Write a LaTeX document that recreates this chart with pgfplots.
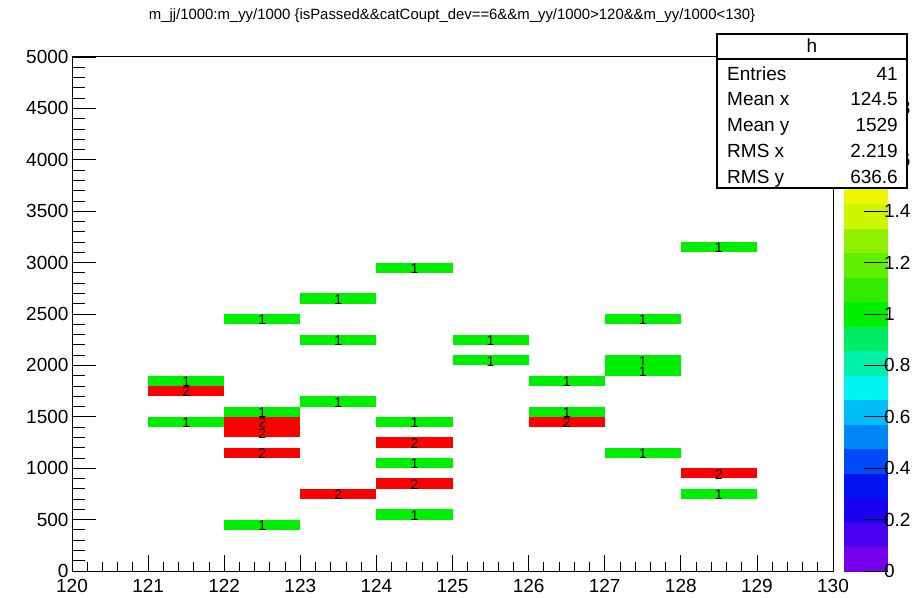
\documentclass[border=0pt]{standalone}
\usepackage{pgfplots}
\pgfplotsset{compat=1.18}
\usepackage{pgfplotstable}
\usepackage{fontspec}
\setmainfont{Liberation Sans}
\newcommand\fs{\fontsize{19bp}{22bp}\selectfont}
\newcommand\fbin{\fontsize{14bp}{16bp}\selectfont}
\newcommand\ftitle{\fontsize{14.9bp}{17bp}\selectfont}
\definecolor{bingreen}{RGB}{0,238,0}
\definecolor{binred}{RGB}{255,0,0}
\pgfdeclareplotmark{bin}{\pgfpathrectangle{\pgfpoint{-38.05bp}{-5.14bp}}{\pgfpoint{76.1bp}{10.28bp}}\pgfusepathqfill}

% bin centres (m_yy, m_jj) with content 1
\pgfplotstableread{
x y c
121.5 1850 1
121.5 1450 1
122.5 2450 1
122.5 1550 1
122.5 450 1
123.5 2650 1
123.5 2250 1
123.5 1650 1
124.5 2950 1
124.5 1450 1
124.5 1050 1
124.5 550 1
125.5 2250 1
125.5 2050 1
126.5 1850 1
126.5 1550 1
127.5 2450 1
127.5 2050 1
127.5 1950 1
127.5 1150 1
128.5 3150 1
128.5 750 1
}\binsone
% bin centres with content 2
\pgfplotstableread{
x y c
121.5 1750 2
122.5 1450 2
122.5 1350 2
122.5 1150 2
123.5 750 2
124.5 1250 2
124.5 850 2
126.5 1450 2
128.5 950 2
}\binstwo

\begin{document}
\begin{tikzpicture}
\fill[white] (0bp,0bp) rectangle (914bp,598bp);
\begin{axis}[
  at={(72bp,27bp)}, anchor=south west,
  scale only axis, width=761bp, height=514bp,
  xmin=120, xmax=130, ymin=0, ymax=5000,
  xtick={120,121,...,130}, ytick={0,500,...,5000},
  minor x tick num=4, minor y tick num=4,
  tick align=inside, tick pos=left,
  xtick style={/pgfplots/major tick length=16bp,/pgfplots/minor tick length=8.5bp},
  ytick style={/pgfplots/major tick length=24bp,/pgfplots/minor tick length=13bp},
  every tick/.style={black, line width=0.8bp},
  axis line style={line width=1bp},
  scaled ticks=false,
  /pgf/number format/assume math mode=true,
  /pgf/number format/1000 sep={},
  ticklabel style={font=\fs},
  xticklabel style={yshift=-5bp},
  point meta min=0, point meta max=2,
  colormap access=piecewise constant,
  colormap={rootpal}{
    rgb255=(118,0,235) rgb255=(72,0,238) rgb255=(28,0,240) rgb255=(0,20,240)
    rgb255=(0,75,245) rgb255=(0,135,245) rgb255=(0,190,245) rgb255=(0,245,240)
    rgb255=(0,240,170) rgb255=(0,236,100) rgb255=(0,238,0) rgb255=(50,235,0)
    rgb255=(95,240,0) rgb255=(145,240,0) rgb255=(205,245,0) rgb255=(240,245,0)
    rgb255=(255,200,0) rgb255=(255,140,0) rgb255=(255,75,0) rgb255=(255,0,0)
    rgb255=(255,0,0)},
  colorbar,
  colorbar style={
    at={(parent axis.north east)}, anchor=north west, xshift=2bp,
    scale only axis, width=44bp, height=514bp,
    ytick={0,0.2,0.4,0.6,0.8,1,1.2,1.4,1.6,1.8,2},
    tick align=inside, ytick pos=right, yticklabel pos=right,
    major tick length=24bp,
    every tick/.style={black, line width=0.8bp},
    axis line style={draw=none},
    yticklabel style={font=\fs, xshift=-7bp},
    /pgf/number format/assume math mode=true,
  },
  nodes near coords,
  every node near coord/.append style={anchor=center, yshift=-1bp, font=\fbin, text=black, inner sep=0pt},
]
\addplot[only marks, mark=bin, mark options={fill=bingreen, draw=none},
  point meta=explicit] table[x=x, y=y, meta=c] {\binsone};
\addplot[only marks, mark=bin, mark options={fill=binred, draw=none},
  point meta=explicit] table[x=x, y=y, meta=c] {\binstwo};
\end{axis}
% title
\node[anchor=base, font=\ftitle] at (452bp,578bp) {m\_jj/1000:m\_yy/1000 \{isPassed\&\&catCoupt\_dev==6\&\&m\_yy/1000>120\&\&m\_yy/1000<130\}};
% stats box
\draw[line width=1.2bp, fill=white] (717bp,410bp) rectangle (907bp,564bp);
\draw[line width=1.2bp] (717bp,539bp) -- (907bp,539bp);
\node[anchor=base, font=\fs, inner sep=0pt] at (812bp,545bp) {h};
\node[anchor=base west, font=\fs, inner sep=0pt] at (727bp,517.3bp) {Entries};
\node[anchor=base west, font=\fs, inner sep=0pt] at (727bp,492.3bp) {Mean x};
\node[anchor=base west, font=\fs, inner sep=0pt] at (727bp,466.3bp) {Mean y};
\node[anchor=base west, font=\fs, inner sep=0pt] at (727bp,440.3bp) {RMS x};
\node[anchor=base west, font=\fs, inner sep=0pt] at (727bp,414.3bp) {RMS y};
\node[anchor=base east, font=\fs, inner sep=0pt] at (898bp,517.3bp) {41};
\node[anchor=base east, font=\fs, inner sep=0pt] at (898bp,492.3bp) {124.5};
\node[anchor=base east, font=\fs, inner sep=0pt] at (898bp,466.3bp) {1529};
\node[anchor=base east, font=\fs, inner sep=0pt] at (898bp,440.3bp) {2.219};
\node[anchor=base east, font=\fs, inner sep=0pt] at (898bp,414.3bp) {636.6};
\pgfresetboundingbox
\useasboundingbox (0bp,0bp) rectangle (914bp,598bp);
\end{tikzpicture}
\end{document}
